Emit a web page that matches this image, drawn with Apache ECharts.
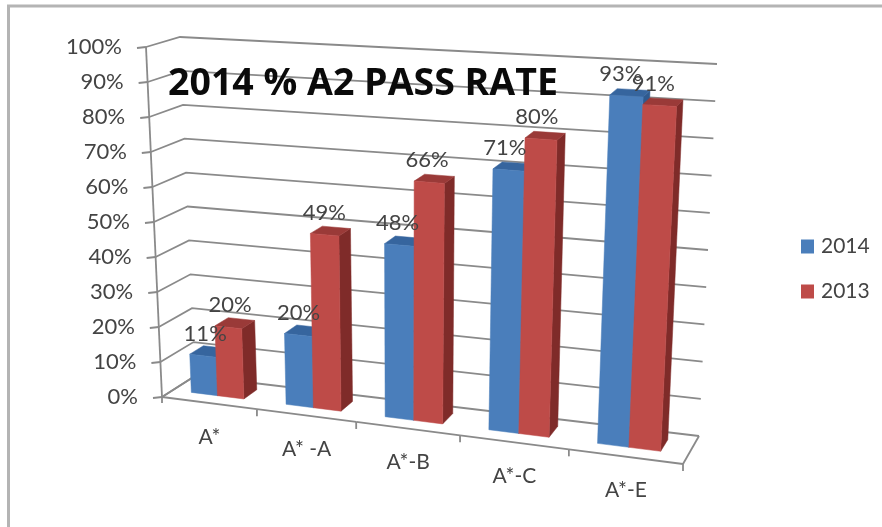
<!DOCTYPE html>
<html><head><meta charset="utf-8">
<style>html,body{margin:0;padding:0;background:#fff}#c{width:882px;height:527px;filter:blur(0.5px)}</style>
<script src="https://cdn.jsdelivr.net/npm/echarts@6/dist/echarts.min.js"></script>
</head><body><div id="c"></div>
<script>
const categories = ['A*', 'A* -A', 'A*-B', 'A*-C', 'A*-E'];
const values2014 = [11, 20, 48, 71, 93];
const values2013 = [20, 49, 66, 80, 91];
const valueTicks = [0, 10, 20, 30, 40, 50, 60, 70, 80, 90, 100];

const FONT = 'Lato';
const GRID = {left: 100, top: 100, width: 500, height: 300};
// projection box corners: f/b = front/back, l/r = left/right, 0/1 = floor/ceiling
const C = {
  fl0: [162, 397], fl1: [146, 47], bl0: [195, 376], bl1: [180, 37],
  fr0: [683, 464], fr1: [703, 79], br0: [699, 436], br1: [717, 64]
};
function lerp(a, b, t) { return [a[0] + (b[0] - a[0]) * t, a[1] + (b[1] - a[1]) * t]; }
function warp(u) { return u / (u + (1 - u) * 1.122); }
function project(px, py, v) {
  const u = warp((px - GRID.left) / GRID.width), w = (GRID.top + GRID.height - py) / GRID.height;
  const f = lerp(lerp(C.fl0, C.fr0, u), lerp(C.fl1, C.fr1, u), w);
  const b = lerp(lerp(C.bl0, C.br0, u), lerp(C.bl1, C.br1, u), w);
  return lerp(f, b, v);
}
const LINE = '#8a8a8a';
function seg(pts, width, color) {
  return {type: 'polyline', shape: {points: pts}, silent: true,
    style: {fill: null, stroke: color || LINE, lineWidth: width || 1.8}};
}
function wallsRender(params, api) {
  const val = api.value(0);
  const a = api.coord([0, val]), b = api.coord([categories.length - 1, val]);
  const band = api.size([1, 0])[0];
  const L = a[0] - band / 2, R = b[0] + band / 2, Y = a[1];
  const fl = project(L, Y, 0), bl = project(L, Y, 1), br = project(R, Y, 1);
  return {type: 'group', children: [
    seg([fl, bl, br]),
    seg([[fl[0] - 9, fl[1] + 1], fl]),
    {type: 'text', silent: true, x: fl[0] - 24, y: fl[1], style: {text: val + '%', font: '400 22px ' + FONT,
      fill: '#444', align: 'right', verticalAlign: 'middle'}}
  ]};
}
function floorRender(params, api) {
  const i = api.value(0);
  const c = api.coord([i, 0]), band = api.size([1, 0])[0], Y = c[1];
  const x0 = c[0] - band / 2, x1 = c[0] + band / 2;
  const p0 = project(x0, Y, 0), p1 = project(x1, Y, 0), m = lerp(p0, p1, 0.5);
  const kids = [seg([p0, p1]), seg([p1, [p1[0], p1[1] + 7]])];
  if (i === 0) {
    const top = project(x0, api.coord([0, 100])[1], 0);
    kids.push(seg([top, p0]), seg([p0, [p0[0], p0[1] + 6]]));
    kids.push(seg([p0, project(x0, Y, 1)]));
  }
  if (i === categories.length - 1) kids.push(seg([p1, project(x1, Y, 1)]));
  kids.push({type: 'text', silent: true, x: m[0], y: m[1] + 34, style: {text: categories[i], font: '400 21px ' + FONT,
    fill: '#444', align: 'center', verticalAlign: 'middle'}});
  return {type: 'group', children: kids};
}
const BAR = {v0: 0.33, v1: 0.75};
function barRender(slot, front, top, side) {
  return function (params, api) {
    const c = api.coord([api.value(0), api.value(1)]), band = api.size([1, 0])[0];
    const base = api.coord([api.value(0), 0])[1];
    const start = c[0] - band / 2;
    const x0 = start + band * (slot === 0 ? 0.2 : 0.48), x1 = start + band * (slot === 0 ? 0.48 : 0.76);
    const y = c[1];
    const poly = (pts, fill) => ({type: 'polygon', silent: true, shape: {points: pts}, style: {fill: fill, stroke: fill, lineWidth: 0.5}});
    return {type: 'group', children: [
      poly([project(x1, base, BAR.v0), project(x1, base, BAR.v1), project(x1, y, BAR.v1), project(x1, y, BAR.v0)], side),
      poly([project(x0, y, BAR.v0), project(x1, y, BAR.v0), project(x1, y, BAR.v1), project(x0, y, BAR.v1)], top),
      poly([project(x0, base, BAR.v0), project(x1, base, BAR.v0), project(x1, y, BAR.v0), project(x0, y, BAR.v0)], front)
    ]};
  };
}
function labelRender(slot) {
  return function (params, api) {
    const c = api.coord([api.value(0), api.value(1)]), band = api.size([1, 0])[0];
    const x = c[0] - band / 2 + band * (slot === 0 ? 0.34 : 0.62);
    const p = project(x, c[1], BAR.v0);
    const t = (x - GRID.left) / GRID.width;
    return {type: 'text', silent: true, x: p[0] + 3 - 10 * t, y: p[1] - 22, style: {text: api.value(1) + '%', font: '400 22px ' + FONT,
      fill: '#444', align: 'center', verticalAlign: 'middle'}};
  };
}
const rows = arr => arr.map((v, i) => [i, v]);
const chart = echarts.init(document.getElementById('c'), null, {renderer: 'canvas'});
chart.setOption({
  animation: false,
  backgroundColor: '#fff',
  grid: GRID,
  xAxis: {type: 'category', data: categories, show: false},
  yAxis: {type: 'value', min: 0, max: 100, interval: 10, show: false},
  title: {text: '2014 % A2 PASS RATE', left: 163, top: 60,
    textStyle: {fontFamily: 'Open Sans', fontWeight: 'bold', fontSize: 37.5, color: '#0a0a0a'}},
  legend: {orient: 'vertical', left: 801, top: 236, padding: 0, itemWidth: 13, itemHeight: 14, itemGap: 24,
    icon: 'rect', data: ['2014', '2013'], selectedMode: false,
    textStyle: {fontFamily: FONT, fontSize: 21, color: '#444', padding: [0, 0, 0, 2]}},
  graphic: [{type: 'polyline', silent: true, z: -1,
    shape: {points: [[8.5, 527], [8.5, 6], [882, 6]]},
    style: {fill: null, stroke: '#b4b4b4', lineWidth: 3}}],
  series: [
    {type: 'custom', name: 'walls', z: 1, data: valueTicks.map(v => [v]), encode: {y: 0}, renderItem: wallsRender},
    {type: 'custom', name: 'floor', z: 2, data: categories.map((c, i) => [i]), encode: {x: 0}, renderItem: floorRender},
    {type: 'custom', name: '2014', z: 3, itemStyle: {color: '#4a7ebb'}, data: rows(values2014), encode: {x: 0, y: 1}, renderItem: barRender(0, '#4a7ebb', '#36659e', '#2f5a8f')},
    {type: 'custom', name: '2013', z: 4, itemStyle: {color: '#be4b48'}, data: rows(values2013), encode: {x: 0, y: 1}, renderItem: barRender(1, '#be4b48', '#9a3a38', '#7f2b29')},
    {type: 'custom', name: 'labels2014', z: 5, data: rows(values2014), encode: {x: 0, y: 1}, renderItem: labelRender(0)},
    {type: 'custom', name: 'labels2013', z: 5, data: rows(values2013), encode: {x: 0, y: 1}, renderItem: labelRender(1)}
  ]
});
</script></body></html>
